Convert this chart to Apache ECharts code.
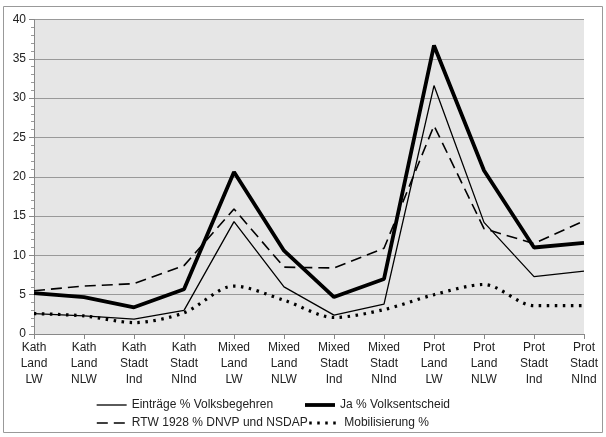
<!DOCTYPE html>
<html>
<head>
<meta charset="utf-8">
<script src="https://cdn.jsdelivr.net/npm/echarts@6/dist/echarts.min.js"></script>
<style>
html,body{margin:0;padding:0;background:#fff;}
#chart{width:606px;height:437px;}
</style>
</head>
<body>
<div id="chart"></div>
<script>
var categories = ['Kath\nLand\nLW','Kath\nLand\nNLW','Kath\nStadt\nInd','Kath\nStadt\nNInd',
	'Mixed\nLand\nLW','Mixed\nLand\nNLW','Mixed\nStadt\nInd','Mixed\nStadt\nNInd',
	'Prot\nLand\nLW','Prot\nLand\nNLW','Prot\nStadt\nInd','Prot\nStadt\nNInd'];
var eintraege = [2.6, 2.3, 1.9, 3.0, 14.3, 6.0, 2.4, 3.8, 31.6, 14.2, 7.3, 8.0];
var jaVolksentscheid = [5.2, 4.7, 3.4, 5.7, 20.6, 10.6, 4.7, 7.0, 36.7, 20.8, 11.0, 11.6];
var rtwDnvpNsdap = [5.5, 6.1, 6.4, 8.7, 15.9, 8.5, 8.4, 10.9, 26.5, 13.4, 11.5, 14.4];
var mobilisierung = [2.6, 2.3, 1.45, 2.7, 6.1, 4.3, 2.1, 3.1, 5.0, 6.3, 3.6, 3.6];
var seriesNames = ['Einträge % Volksbegehren','Ja % Volksentscheid','RTW 1928 % DNVP und NSDAP','Mobilisierung %'];

var dom = document.getElementById("chart");
var myChart = echarts.init(dom);
var font = 'Liberation Sans, Arial, sans-serif';

var legendText = { fontSize: 12, color: '#222', fontFamily: font };

var option = {
	animation: false,
	textStyle: { fontFamily: font },
	graphic: [{
		type: 'rect',
		shape: { x: 3.5, y: 6.5, width: 599, height: 426 },
		style: { fill: 'none', stroke: '#999', lineWidth: 1 }
	}],
	legend: [
		{
			data: [seriesNames[0], seriesNames[1]],
			left: 91, top: 394, itemWidth: 30, itemHeight: 10, itemGap: 30,
			itemStyle: { opacity: 0 },
			lineStyle: { width: 'inherit' },
			textStyle: legendText
		},
		{
			data: [seriesNames[2], seriesNames[3]],
			left: 91, top: 412, itemWidth: 30, itemHeight: 10, itemGap: 0,
			itemStyle: { opacity: 0 },
			lineStyle: { width: 'inherit' },
			textStyle: legendText
		}
	],
	grid: {
		left: 34, right: 22, top: 19.5, bottom: 103,
		show: true, backgroundColor: '#e6e6e6', borderWidth: 0
	},
	xAxis: {
		type: 'category',
		data: categories,
		boundaryGap: false,
		axisLine: { lineStyle: { color: '#888', width: 1 } },
		axisTick: { show: true, alignWithLabel: true, length: 5, lineStyle: { color: '#888' } },
		axisLabel: { interval: 0, color: '#222', fontSize: 12, lineHeight: 16, margin: 6, fontFamily: font }
	},
	yAxis: {
		type: 'value',
		min: 0, max: 40, interval: 5,
		axisLine: { show: true, lineStyle: { color: '#888', width: 1 } },
		axisTick: { show: true, length: 5, lineStyle: { color: '#888' } },
		minorTick: { show: true, splitNumber: 5, length: 3, lineStyle: { color: '#999' } },
		splitLine: { lineStyle: { color: '#999', width: 1 } },
		axisLabel: { color: '#222', fontSize: 12, margin: 8, fontFamily: font }
	},
	series: [
		{
			name: seriesNames[0], type: 'line', data: eintraege, symbol: 'none',
			lineStyle: { color: '#000', width: 1.3 }, itemStyle: { color: '#000' }
		},
		{
			name: seriesNames[1], type: 'line', data: jaVolksentscheid, symbol: 'none',
			lineStyle: { color: '#000', width: 3.8 }, itemStyle: { color: '#000' }
		},
		{
			name: seriesNames[2], type: 'line', data: rtwDnvpNsdap, symbol: 'none',
			lineStyle: { color: '#000', width: 1.6, type: [11, 6] }, itemStyle: { color: '#000' }
		},
		{
			name: seriesNames[3], type: 'line', data: mobilisierung, symbol: 'none', smooth: 0.3,
			lineStyle: { color: '#000', width: 3.2, type: [2.5, 5.5], cap: 'butt' }, itemStyle: { color: '#000' }
		}
	]
};

if (option && typeof option === "object") {
	myChart.setOption(option, true);
}
</script>
</body>
</html>
